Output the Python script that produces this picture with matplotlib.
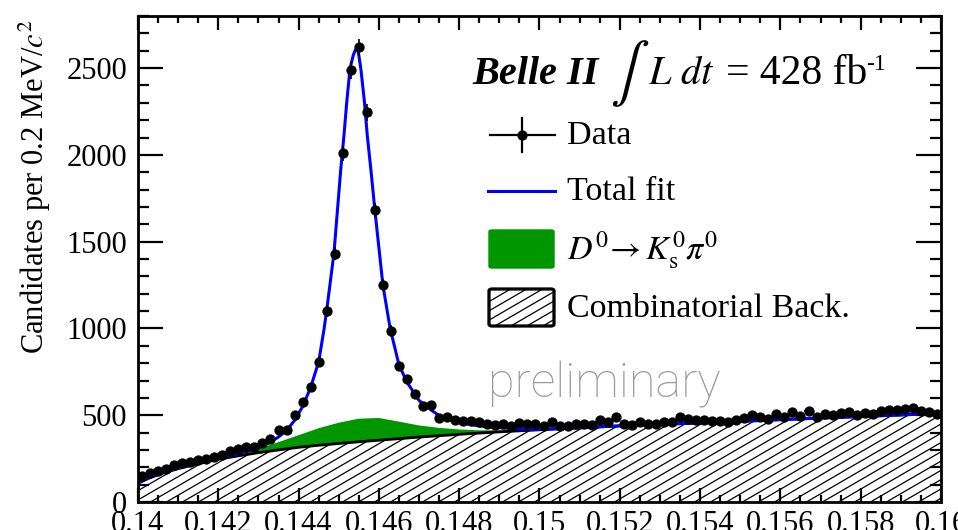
import numpy as np
import matplotlib
matplotlib.use("Agg")
import matplotlib.pyplot as plt
from matplotlib.ticker import MultipleLocator, FixedLocator, FuncFormatter
from matplotlib.patches import FancyBboxPatch
from matplotlib.lines import Line2D

SERIF = ['Liberation Serif', 'DejaVu Serif']
plt.rcParams['font.family'] = SERIF
plt.rcParams['mathtext.fontset'] = 'stix'

# ---------------- data ----------------
bin_lo = 0.140
bin_width = 0.0002
counts = [150, 168, 180, 188, 213, 222, 232, 240, 250, 262,
          272, 292, 306, 315, 318, 338, 365, 412, 416, 503,
          577, 660, 808, 1100, 1430, 2009, 2487, 2619, 2245, 1681,
          1249, 988, 781, 707, 620, 552, 560, 482, 487, 470,
          465, 468, 459, 452, 443, 447, 438, 455, 450, 452,
          438, 459, 440, 438, 447, 447, 445, 472, 462, 488,
          450, 445, 459, 448, 452, 459, 462, 488, 478, 470,
          472, 468, 466, 460, 472, 482, 501, 491, 480, 505,
          488, 516, 495, 524, 490, 505, 500, 511, 516, 500,
          511, 505, 524, 530, 530, 534, 543, 524, 520, 505]

# fit components
comp_x = [0.1400, 0.1403, 0.1406, 0.1410, 0.1415, 0.1420, 0.1425, 0.1430, 0.1435,
          0.1440, 0.1445, 0.1450, 0.1455, 0.1460, 0.1465, 0.1470, 0.1475, 0.1480,
          0.1485, 0.1490, 0.1495, 0.1500, 0.1510, 0.1520, 0.1530, 0.1540, 0.1550,
          0.1560, 0.1570, 0.1580, 0.1590, 0.1600]
comb_bkg = [108, 140, 165, 192, 220, 246, 266, 284, 300,
            315, 327, 337, 347, 356, 365, 374, 382, 390,
            397, 404, 410, 416, 427, 438, 447, 455, 464,
            474, 483, 492, 501, 510]
peaking = [0, 0, 0, 0, 0, 3, 10, 24, 45,
           70, 98, 120, 133, 128, 98, 67, 45, 28,
           16, 9, 5, 2, 0, 0, 0, 0, 0,
           0, 0, 0, 0, 0]

fit_x = [0.1400, 0.1403, 0.1406, 0.1410, 0.1415, 0.1420, 0.1425, 0.1430, 0.1433,
         0.1435, 0.1437, 0.1439, 0.1441, 0.1443, 0.1445, 0.14463, 0.1447, 0.14488,
         0.14505, 0.14513, 0.14520, 0.14528, 0.14536, 0.14541, 0.14545, 0.14548,
         0.14550, 0.14555, 0.14564, 0.14571, 0.14580, 0.14590, 0.14610, 0.14628,
         0.1465, 0.1467, 0.1470, 0.1473, 0.1475, 0.1478, 0.1480, 0.1485, 0.1490,
         0.1495, 0.1500, 0.1510, 0.1520, 0.1530, 0.1540, 0.1550, 0.1560, 0.1570,
         0.1580, 0.1590, 0.1600]
fit_y = [112, 143, 168, 196, 226, 252, 280, 312, 345,
         375, 412, 470, 550, 660, 808, 990, 1105, 1432,
         1916, 2113, 2305, 2497, 2573, 2603, 2612, 2600,
         2573, 2497, 2305, 2113, 1916, 1681, 1249, 1000,
         790, 690, 585, 530, 498, 470, 456, 438, 428,
         421, 419, 428, 439, 448, 456, 465, 475, 484,
         493, 502, 511]

x_ticks = [0.140, 0.142, 0.144, 0.146, 0.148, 0.150, 0.152, 0.154, 0.156, 0.158, 0.160]
y_ticks = [0, 500, 1000, 1500, 2000, 2500]

# ---------------- figure ----------------
W, H = 958, 530
fig = plt.figure(figsize=(W / 100, H / 100), dpi=100)
ax = fig.add_axes([138 / W, 1 - 502 / H, (941 - 138) / W, (502 - 16) / H])
XMIN, XMAX, YMIN, YMAX = 0.140, 0.160, 0, 2800
ax.set_xlim(XMIN, XMAX)
ax.set_ylim(YMIN, YMAX)

def fx(px):
    return px / W

def fy(py):
    return 1 - py / H

cx = np.array(comp_x)
bk = np.array(comb_bkg)
pk = np.array(peaking)

# hatched combinatorial background: white fill + clipped diagonal lines
bkg_poly = ax.fill_between(cx, 0, bk, facecolor='white', edgecolor='none', linewidth=0, zorder=1)
px_per_x = 803 / (XMAX - XMIN)
px_per_y = 486 / (YMAX - YMIN)
hatch_slope_px = 0.58
m = hatch_slope_px * px_per_x / px_per_y
hatch_step = 16.0 / px_per_x
for xb in np.arange(XMIN - 600 / m, XMAX + hatch_step, hatch_step):
    ln, = ax.plot([xb, xb + 700 / m], [0, 700], color='black', lw=0.9, zorder=1.5,
                  solid_capstyle='butt')
    ln.set_clip_path(bkg_poly.get_paths()[0], ax.transData)

ax.fill_between(cx, bk, bk + pk, facecolor='#009600', edgecolor='none', linewidth=0, zorder=2)
ax.plot(cx, bk, color='black', lw=2.0, zorder=3)
ax.plot(fit_x, fit_y, color='#0000ff', lw=2.2, zorder=4)

cnt = np.array(counts, dtype=float)
xc = bin_lo + bin_width * (np.arange(len(cnt)) + 0.5)
ax.errorbar(xc, cnt, yerr=np.sqrt(cnt), xerr=bin_width / 2, fmt='o', color='black',
            ms=6.4, elinewidth=1.2, capsize=0, zorder=5)

ax.xaxis.set_major_locator(FixedLocator(x_ticks))
ax.xaxis.set_major_formatter(FuncFormatter(lambda v, p: '%g' % round(v, 4)))
ax.xaxis.set_minor_locator(MultipleLocator(0.0005))
ax.yaxis.set_major_locator(FixedLocator(y_ticks))
ax.yaxis.set_minor_locator(MultipleLocator(100))

ax.tick_params(axis='both', which='both', direction='in', top=True, right=True,
               width=1.6, labelsize=22, colors='black')
ax.tick_params(axis='x', which='major', length=10, pad=6)
ax.tick_params(axis='x', which='minor', length=5)
ax.tick_params(axis='y', which='major', length=18, pad=8)
ax.tick_params(axis='y', which='minor', length=8)
for s in ax.spines.values():
    s.set_linewidth(2.0)
    s.set_zorder(6)

ax.set_ylabel(r'Candidates per 0.2 MeV/$c^2$', fontsize=22, loc='top')
ax.yaxis.set_label_coords((53 - 138) / 803, (502 - 20) / 486)

# ---------------- header text ----------------
base = 84
fig.text(fx(472), fy(base), 'Belle II', fontsize=29, fontweight='bold', style='italic',
         family=SERIF, va='baseline', ha='left')
fig.text(fx(610), fy(base + 4), r'$\int$', fontsize=42, va='baseline', ha='left')
fig.text(fx(648), fy(base), r'$L\ dt$', fontsize=29, va='baseline', ha='left')
fig.text(fx(726), fy(base), '= 428 fb', fontsize=30, family=SERIF, va='baseline', ha='left')
fig.text(fx(866), fy(base - 14), '-1', fontsize=17, family=SERIF, va='baseline', ha='left')

# ---------------- legend (drawn by hand) ----------------
tf = fig.transFigure
LFS = 24.5
fig.add_artist(Line2D([fx(490), fx(555)], [fy(135), fy(135)], color='black', lw=1.6, transform=tf))
fig.add_artist(Line2D([fx(522), fx(522)], [fy(118), fy(152)], color='black', lw=1.6, transform=tf))
fig.add_artist(Line2D([fx(522)], [fy(135)], marker='o', ms=6.4, color='black', transform=tf))
fig.text(fx(567), fy(136), 'Data', fontsize=LFS, family=SERIF, va='center', ha='left')

fig.add_artist(Line2D([fx(488), fx(555)], [fy(191), fy(191)], color='#0000ff', lw=2.2, transform=tf))
fig.text(fx(567), fy(192), 'Total fit', fontsize=LFS, family=SERIF, va='center', ha='left')

fig.add_artist(FancyBboxPatch((fx(489), fy(268)), fx(554) - fx(489), fy(230) - fy(268),
                              boxstyle='round,pad=0,rounding_size=0.003', facecolor='#009600',
                              edgecolor='#009600', lw=1, transform=tf))
fig.text(fx(567), fy(250), r'$D^{0}\!\rightarrow K^{0}_{\mathrm{s}}\pi^{0}$', fontsize=LFS,
         va='center', ha='left')

hbox = FancyBboxPatch((fx(489), fy(326)), fx(554) - fx(489), fy(289) - fy(326),
                      boxstyle='round,pad=0,rounding_size=0.003', facecolor='white',
                      edgecolor='black', lw=2.0, transform=tf, zorder=3)
fig.add_artist(hbox)
for x0 in np.arange(440, 560, 16):
    hl = Line2D([fx(x0), fx(x0 + 100)], [fy(330), fy(330 - 100 * hatch_slope_px)],
                color='black', lw=0.9, transform=tf, zorder=3.5)
    fig.add_artist(hl)
    hl.set_clip_path(hbox)
fig.add_artist(FancyBboxPatch((fx(489), fy(326)), fx(554) - fx(489), fy(289) - fy(326),
                              boxstyle='round,pad=0,rounding_size=0.003', facecolor='none',
                              edgecolor='black', lw=2.0, transform=tf, zorder=4))
fig.text(fx(567), fy(309), 'Combinatorial Back.', fontsize=LFS, family=SERIF,
         va='center', ha='left')

fig.text(fx(488), fy(398), 'preliminary', fontsize=35, color='#9a9a9a',
         family=['Roboto', 'DejaVu Sans'], fontweight='light', va='baseline', ha='left')

fig.savefig('out.png', dpi=100)
